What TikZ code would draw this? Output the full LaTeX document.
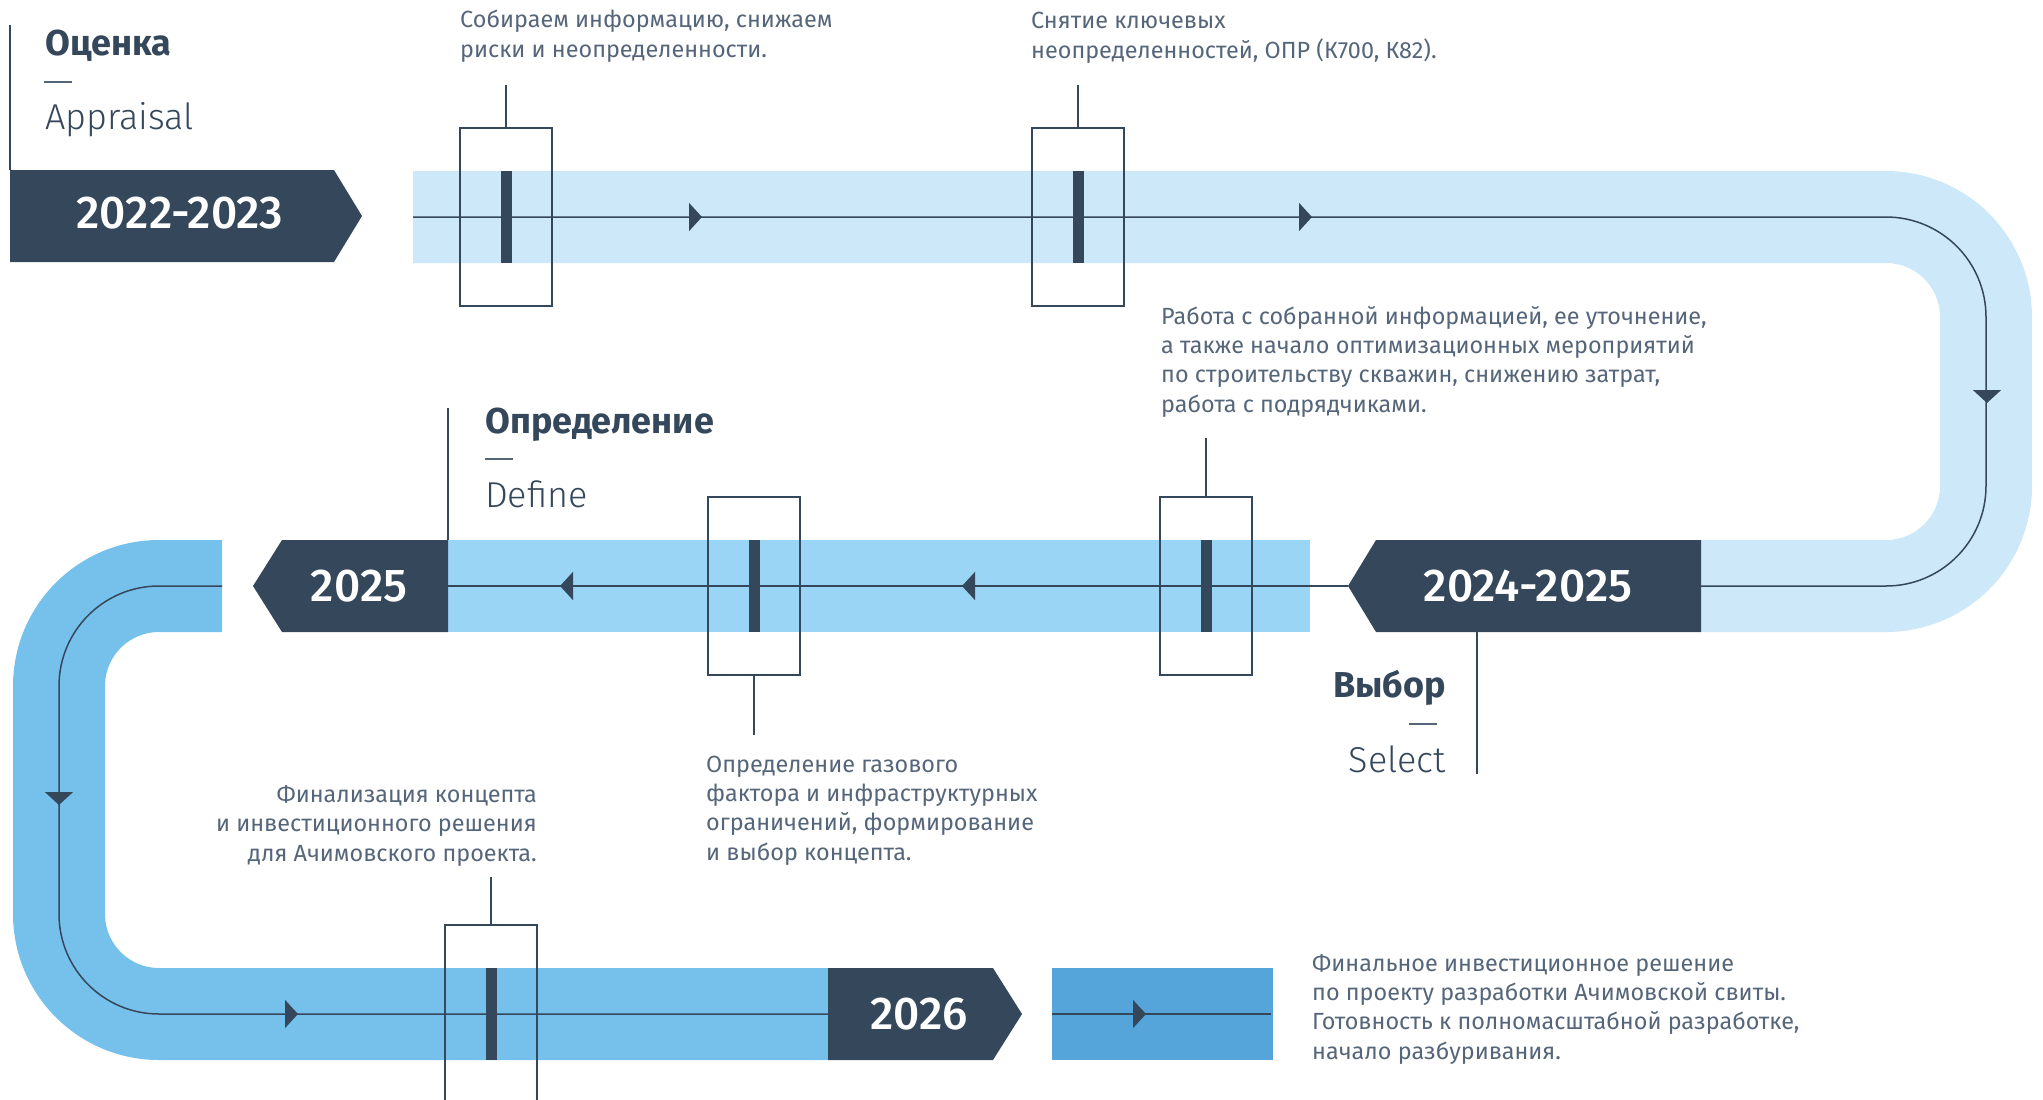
\documentclass[tikz,border=0pt]{standalone}
\usepackage{fontspec}
\setmainfont{Fira Sans}
\newfontfamily\lightfont{Fira Sans Light}
\newfontfamily\midfont{Fira Sans Medium}
\usetikzlibrary{arrows.meta}

\definecolor{navy}{HTML}{35475A}
\definecolor{bandA}{HTML}{CDE8F8}
\definecolor{bandB}{HTML}{9AD5F5}
\definecolor{bandC}{HTML}{76C0EC}
\definecolor{bandD}{HTML}{55A5DB}
\definecolor{txtgray}{HTML}{56667A}

\begin{document}
\begin{tikzpicture}
  [x=1pt,y=-1pt,
   flow/.style={draw=navy,line width=1.5pt},
   rule/.style={draw=navy,line width=1.4pt},
   dashline/.style={draw=txtgray,line width=1.6pt},
   mbox/.style={draw=navy,line width=1.3pt,minimum width=92pt,minimum height=178pt,inner sep=0pt},
   mbar/.style={fill=navy,minimum width=11pt,minimum height=92pt,inner sep=0pt},
   tip/.style={navy,line width=1.5pt,-{Triangle[length=13pt,width=28pt]}},
   note/.style={anchor=base west,inner sep=0pt,align=left,text=txtgray,font=\fontsize{23.4}{29.3}\selectfont},
   head/.style={inner sep=0pt,text=navy,font=\fontsize{36}{42}\selectfont\bfseries},
   sub/.style={inner sep=0pt,text=navy,font=\fontsize{36}{42}\selectfont\lightfont},
   year/.style={anchor=base,inner sep=0pt,text=white,font=\fontsize{46}{52}\selectfont\midfont}]
  \useasboundingbox (0,0) rectangle (2043,1100);

  % bands
  \draw[bandA,line width=92pt,rounded corners=100pt] (413,217) -- (1986,217) -- (1986,586) -- (1701,586);
  \fill[bandB] (448,540) rectangle (1310,632);
  \draw[bandC,line width=92pt,rounded corners=100pt] (222,586) -- (59,586) -- (59,1014) -- (828,1014);
  \fill[bandD] (1052,968) rectangle (1273,1060);

  % ends of the flow line
  \coordinate (s1) at (413,217);
  \coordinate (e1) at (1701,586);
  \coordinate (s2) at (1348,586);
  \coordinate (e2) at (448,586);
  \coordinate (s3) at (222,586);
  \coordinate (e3) at (828,1014);
  \coordinate (s4) at (1052,1014);
  \coordinate (e4) at (1271,1014);

  \draw[flow,rounded corners=100pt] (s1) -- (1986,217) -- (1986,586) -- (e1);
  \draw[flow] (s2) -- (e2);
  \draw[flow,rounded corners=100pt] (s3) -- (59,586) -- (59,1014) -- (e3);
  \draw[flow] (s4) -- (e4);

  % milestones
  \foreach \n/\x/\y in {m1/506/217, m2/1078/217, ma/754/586, mb/1206/586, m4/491/1014}
  {
    \node[mbox] (\n) at (\x,\y) {};
    \node[mbar] at (\x,\y) {};
  }
  \draw[rule] (m1.north) -- (m1.north |- 0,85);
  \draw[rule] (m2.north) -- (m2.north |- 0,85);
  \draw[rule] (mb.north) -- (mb.north |- 0,438);
  \draw[rule] (ma.south) -- (ma.south |- 0,735);
  \draw[rule] (m4.north) -- (m4.north |- 0,877);

  % arrow heads
  \foreach \a/\b/\c/\d in {689/217/702/217, 1299/217/1312/217, 1987/390/1987/403,
    975/586/962/586, 573/586/560/586, 59/792/59/805, 285/1014/298/1014, 1133/1014/1146/1014}
    \draw[tip] (\a,\b) -- (\c,\d);

  % year banners
  \fill[navy] (10,170) -- (334,170) -- (362,216) -- (334,262) -- (10,262) -- cycle;
  \fill[navy] (1701,540) -- (1376,540) -- (1348,586) -- (1376,632) -- (1701,632) -- cycle;
  \fill[navy] (448,540) -- (282,540) -- (253,586) -- (282,632) -- (448,632) -- cycle;
  \fill[navy] (828,968) -- (993,968) -- (1022,1014) -- (993,1060) -- (828,1060) -- cycle;
  \node[year] (y1) at (180,228) {2022-2023};
  \node[year] (y2) at (1528,601) {2024-2025};
  \node[year] (y3) at (359,601) {2025};
  \node[year] (y4) at (919,1029) {2026};

  % stage titles
  \draw[rule] (10,25) -- (10,170);
  \node[head,anchor=base west] (h1) at (45,55) {Оценка};
  \draw[dashline] (44,82) -- (72,82);
  \node[sub,anchor=base west] (h1e) at (45,129) {Appraisal};

  \draw[rule] (448,408) -- (448,540);
  \node[head,anchor=base west] (h2) at (485,433) {Определение};
  \draw[dashline] (485,459) -- (513,459);
  \node[sub,anchor=base west] (h2e) at (485,507) {Define};

  \draw[rule] (1477,632) -- (1477,774);
  \node[head,anchor=base east] (h3) at (1446,697) {Выбор};
  \draw[dashline] (1409,724) -- (1437,724);
  \node[sub,anchor=base east] (h3e) at (1446,772) {Select};

  % notes (anchored at the baseline of the last line)
  \node[note] (t1) at (460,57) {Собираем информацию, снижаем\\риски и неопределенности.};
  \node[note] (t2) at (1031,58) {Снятие ключевых\\неопределенностей, ОПР (К700, К82).};
  \node[note] (t3) at (1161,412) {Работа с собранной информацией, ее уточнение,\\а также начало оптимизационных мероприятий\\по строительству скважин, снижению затрат,\\работа с подрядчиками.};
  \node[note] (t4) at (706,860) {Определение газового\\фактора и инфраструктурных\\ограничений, формирование\\и выбор концепта.};
  \node[note,anchor=base east,align=right] (t5) at (537,861) {Финализация концепта\\и инвестиционного решения\\для Ачимовского проекта.};
  \node[note] (t6) at (1312,1059) {Финальное инвестиционное решение\\по проекту разработки Ачимовской свиты.\\Готовность к полномасштабной разработке,\\начало разбуривания.};
\end{tikzpicture}
\end{document}
